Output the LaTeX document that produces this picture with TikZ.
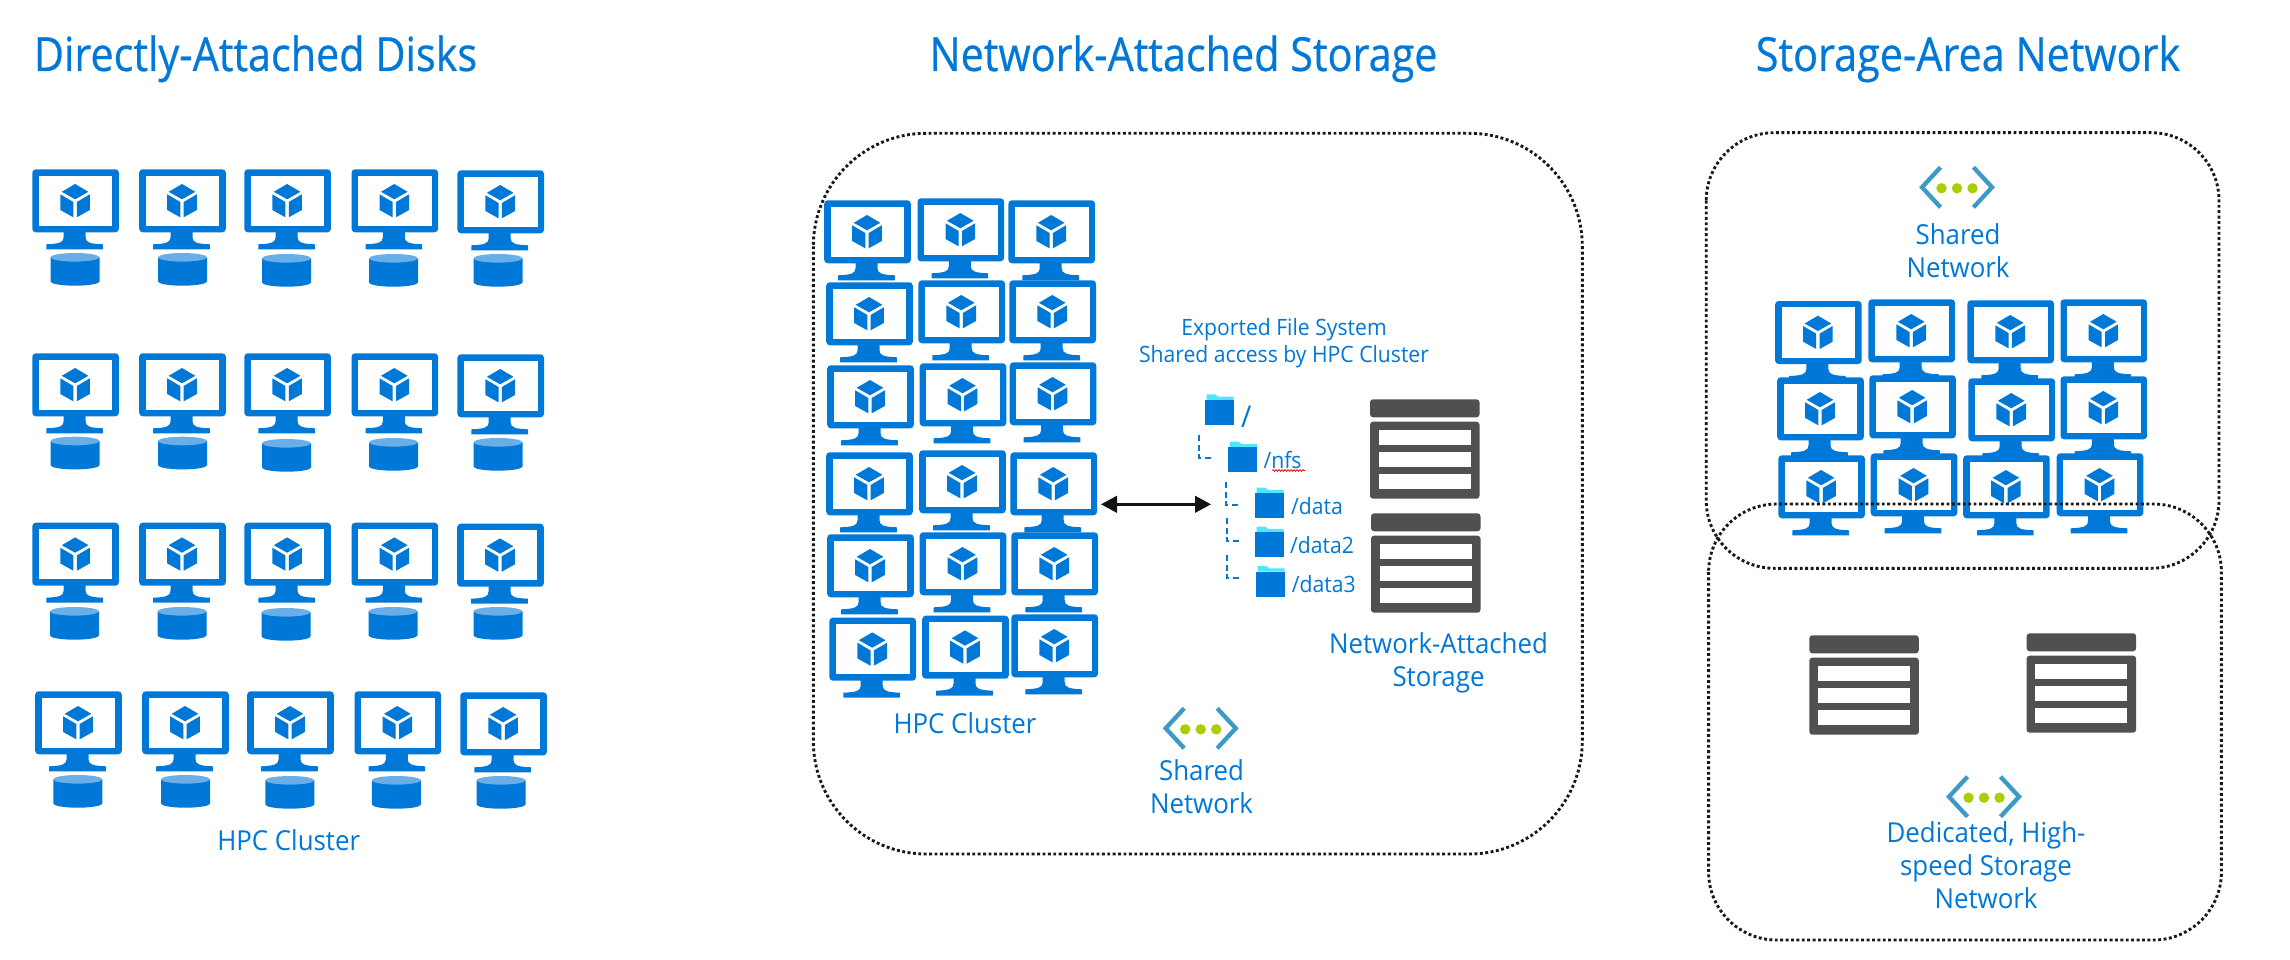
\documentclass[tikz,border=0pt]{standalone}
\usepackage{fontspec}
\setmainfont[FakeStretch=0.94]{Open Sans}
\newfontfamily\titlefont[FakeStretch=0.88,FakeBold=0.5]{Open Sans}
\usetikzlibrary{arrows.meta,decorations.pathmorphing}
\definecolor{azblue}{HTML}{0078D7}
\definecolor{azlid}{HTML}{6AAEE8}
\definecolor{aztab}{HTML}{50E6FF}
\definecolor{azgrey}{HTML}{505050}
\definecolor{azchev}{HTML}{3B9BC6}
\definecolor{azdot}{HTML}{A8CF00}
\tikzset{
  monitor/.pic={
    \fill[azblue,rounded corners=3.5pt] (-43.3,0) rectangle (43.3,63);
    \fill[white] (-36.8,6.3) rectangle (36.8,56.7);
    \fill[azblue] (-12,60) -- (-12,68) .. controls (-12,73) and (-16,74.5) .. (-29.3,75)
      -- (-29.3,80) -- (27.3,80) -- (27.3,75) .. controls (14,74.5) and (10,73) .. (10,68)
      -- (10,60) -- cycle;
    \fill[azblue] (-0.5,14.7) -- (12.8,22.5) -- (-0.5,30) -- (-13.8,22.5) -- cycle;
    \fill[azblue] (-15.3,25) -- (-2.2,32.7) -- (-2.2,48) -- (-15.3,40.7) -- cycle;
    \fill[azblue] (14.3,25) -- (1.2,32.7) -- (1.2,48) -- (14.3,40.7) -- cycle;
  },
  disk/.pic={
    \fill[azblue] (-24.5,4.3) -- (-24.5,28.5) arc[start angle=180,end angle=360,x radius=24.5,y radius=-4.2]
      -- (24.5,4.3) -- cycle;
    \fill[azlid] (0,4.3) ellipse[x radius=24.5,y radius=4.3];
  },
  storage/.pic={
    \fill[azgrey,rounded corners=3pt] (0,18) -- (0,0) -- (109.5,0) -- (109.5,18) -- cycle;
    \fill[azgrey,rounded corners=3pt] (0,22.4) -- (0,99.4) -- (109.5,99.4) -- (109.5,22.4) -- cycle;
    \fill[white] (8.7,31) rectangle (100.5,46);
    \fill[white] (8.7,53) rectangle (100.5,68);
    \fill[white] (8.7,75) rectangle (100.5,90);
  },
  netw/.pic={
    \draw[azchev,line width=4.3pt,line join=miter] (-16.5,-20) -- (-35,0) -- (-16.5,20);
    \draw[azchev,line width=4.3pt,line join=miter] (16.5,-20) -- (35,0) -- (16.5,20);
    \fill[azdot] (-15.5,1) circle[radius=5.2] (0,1) circle[radius=5.2] (15.5,1) circle[radius=5.2];
  },
  folder/.pic={
    \fill[aztab] (1.5,0) -- (1.5,-5.7) -- (10,-5.7) -- (13.5,-3.3) -- (28.5,-3.3) -- (28.5,0) -- cycle;
    \fill[azblue] (0,0) rectangle (29,25);
  },
  titletext/.style={text=azblue,inner sep=0pt,anchor=base,font=\titlefont\fontsize{47}{52}\selectfont},
  labeltext/.style={text=azblue,inner sep=0pt,anchor=base,align=center,font=\fontsize{27.5}{33}\selectfont},
  smalltext/.style={text=azblue,inner sep=0pt,anchor=base,align=center,font=\fontsize{22.5}{27}\selectfont},
  foldertext/.style={text=azblue,inner sep=0pt,anchor=base west,font=\fontsize{22.5}{28}\selectfont},
  dotbox/.style={draw=black!90,line width=2.9pt,dash pattern=on 2.9pt off 2.5pt},
  treeline/.style={azblue,line width=1.7pt,dash pattern=on 6pt off 3.5pt},
  biarrow/.style={draw=black!93,line width=2.7pt,
    {Triangle[length=16pt,width=16.5pt]}-{Triangle[length=16pt,width=16.5pt]}},
}
\begin{document}
\begin{tikzpicture}[x=1pt,y=-1pt]
\useasboundingbox (0,0) rectangle (2290,960);
\fill[white] (0,0) rectangle (2290,960);

% titles
\node[titletext] (t1) at (255.5,71) {Directly-Attached Disks};
\node[titletext] (t2) at (1183.5,71) {Network-Attached Storage};
\node[titletext] (t3) at (1968,71) {Storage-Area Network};

% directly attached: monitors
\foreach \cx/\ty in {75.6/169.3,182.5/169.3,287.6/169.3,394.8/169.3,500.7/170.3,
  75.6/353.3,182.5/353.3,287.6/353.3,394.8/353.3,500.7/354.3,
  75.6/522.7,182.5/522.7,287.6/522.7,394.8/522.7,500.5/523.7,
  78.5/691.3,185.5/691.3,290.5/691.3,397.8/691.3,503.6/692.3}
  \pic at (\cx,\ty) {monitor};
% directly attached: disks
\foreach \cx/\ty in {75/253,182.5/253,286.5/254,393.5/254,498/254,
  75/436.7,182.5/436.7,286.5/439,393.5/438,498/438,
  74.5/607,182/607,286/608,393/607,498/607,
  77.8/775,185.5/775,289.8/776,396.4/776,501/776}
  \pic at (\cx,\ty) {disk};
\node[labeltext] (hpc1) at (288.7,850) {HPC Cluster};

% network-attached storage
\draw[dotbox,rounded corners=113pt] (813.3,133.3) rectangle (1582.3,854);
\foreach \cx/\ty in {867.5/200.3,960.8/198.3,1051.7/200.3,
  869.5/282.3,961.7/280.3,1052.7/280.3,
  870.5/365.3,963/363.3,1053/362.3,
  869.5/452.3,962.5/450.3,1053.7/452.3,
  870.5/534.3,963/532.3,1054.7/532.3,
  872.7/617.7,965.5/615.7,1054.7/614.3}
  \pic at (\cx,\ty) {monitor};
\node[labeltext] (hpc2) at (965,733) {HPC Cluster};
\node[smalltext] (fs) at (1284,362) {Exported File System\\Shared access by HPC Cluster};

\pic at (1205,400) {folder};
\pic at (1228.3,447.3) {folder};
\pic at (1255,493.3) {folder};
\pic at (1255,532.3) {folder};
\pic at (1256,571.7) {folder};
\node[foldertext,font=\fontsize{30}{32}\selectfont] (froot) at (1241,427.5) {/};
\node[foldertext] (fnfs) at (1263.3,468) {/nfs};
\node[foldertext] (fdata) at (1291,514) {/data};
\node[foldertext] (fdata2) at (1290,553) {/data2};
\node[foldertext] (fdata3) at (1291.7,592.7) {/data3};
\coordinate (sqa) at (1272.3,470.5);
\coordinate (sqb) at (1305,470.5);
\draw[red!80!black,line width=0.7pt,decorate,decoration={zigzag,segment length=3pt,amplitude=0.9pt}] (sqa) -- (sqb);

\coordinate (tr1a) at (1198.7,435);   \coordinate (tr1b) at (1213.3,457.7);
\coordinate (tr2a) at (1225.7,482.3); \coordinate (tr2b) at (1240,504.7);
\coordinate (tr3a) at (1226.7,518.3); \coordinate (tr3b) at (1241,540.7);
\coordinate (tr4a) at (1226.7,555);   \coordinate (tr4b) at (1241,577.7);
\draw[treeline] (tr1a) |- (tr1b);
\draw[treeline] (tr2a) |- (tr2b);
\draw[treeline] (tr3a) |- (tr3b);
\draw[treeline] (tr4a) |- (tr4b);

\coordinate (arL) at (1101,504.3);
\coordinate (arR) at (1211,504.3);
\draw[biarrow] (arL) -- (arR);

\pic at (1370,399.3) {storage};
\pic at (1371,513.3) {storage};
\node[labeltext] (nas) at (1438.5,686.7) {Network-Attached\\Storage};
\pic at (1200.7,728.3) {netw};
\node[labeltext] (sn1) at (1201.5,813.3) {Shared\\Network};

% storage-area network
\pic at (1957,187.3) {netw};
\node[labeltext] (sn2) at (1958,277.3) {Shared\\Network};
\foreach \cx/\ty in {1818.4/301,1911.7/299.3,2010.7/300.3,2103.8/299.3,
  1820.5/377.3,1912.6/375.3,2011.7/378.3,2103.8/376.3,
  1821.6/455.3,1914/453.3,2006.4/455.3,2100/453.3}
  \pic at (\cx,\ty) {monitor};
\draw[dotbox,rounded corners=68pt] (1706.2,132.7) rectangle (2219,568.3);
\draw[dotbox,rounded corners=68pt] (1708.6,504) rectangle (2221.4,940);
\pic at (1809.3,635.3) {storage};
\pic at (2026.6,633.3) {storage};
\pic at (1984,796.7) {netw};
\node[labeltext] (dn) at (1986,908.3) {Dedicated, High-\\speed Storage\\Network};
\end{tikzpicture}
\end{document}
